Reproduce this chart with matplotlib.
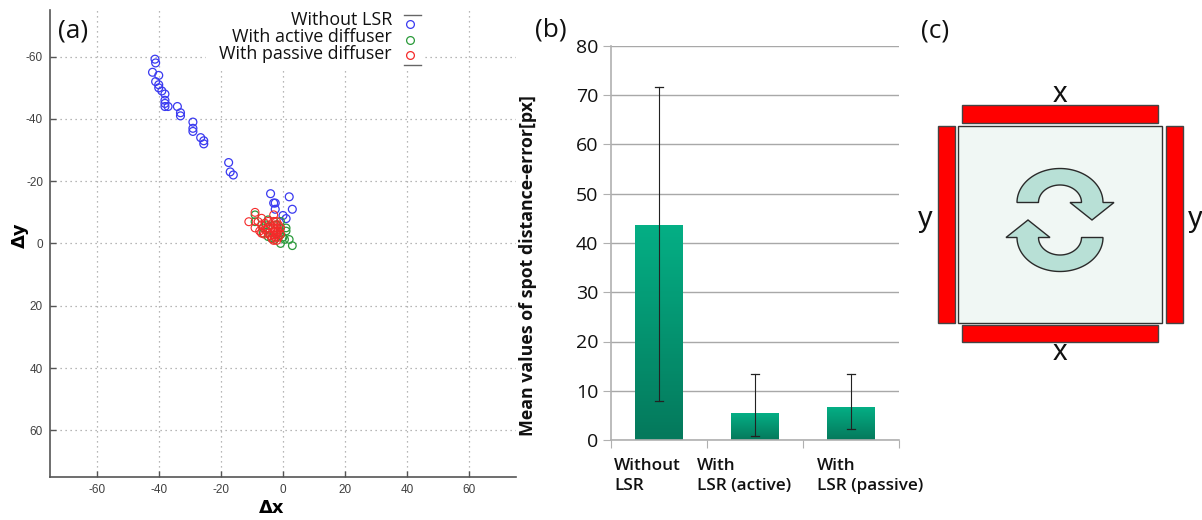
import numpy as np
import matplotlib
matplotlib.use("Agg")
import matplotlib.pyplot as plt
from matplotlib.patches import Rectangle, Polygon

W, H = 1202, 520

# (a) spot positions
blue_x = [-41.2, -41, -42, -40, -41, -40, -40, -39, -38, -38, -38, -38, -37, -34, -33, -33,
          -29, -29, -29, -26.5, -25.5, -25.5, -17.5, -17, -16, -4, 2, -3, -2.5, 3, -2.5, 0, 1]
blue_y = [-59.2, -58, -55, -54, -52, -51, -50, -49, -48, -46, -45, -44, -44, -44, -42, -41,
          -39, -37, -36, -34, -33, -32, -26, -23, -22, -16, -15, -13, -13, -11, -11, -9, -8]
green_x = [-9, -9, -4.8, -6.4, -4.8, -3.7, -0.8, -0.8, 1, 1, 2, 3, -0.8, 0.5, -0.8, -2.7, -6.4, -2, -1, 0, -3, -5.5]
green_y = [-9.2, -7, -7.6, -5, -2.2, -1.7, -7.1, -5, -5, -4, -1.3, 0.7, 0, -1.3, -2.8, -1.3, -3.3, -6, -3.5, -2, -4, -6]
red_x = [-11, -9, -9, -6.9, -6.9, -6.9, -4.8, -4.8, -4.8, -3, -3, -3, -3, -3, -2.1, -2.1, -2.1, -0.8,
         -8, -7.5, -5.8, -5.8, -4, -4, -2.5, -2.5, -2.5, -1.5, -1.5, -1.5, -3.5, -0.8, -6, -2, -2]
red_y = [-7, -10, -5, -8.1, -6, -3.3, -7.1, -5, -3.3, -9.2, -7.1, -5, -2.8, -1, -7.1, -5, -2.8, -5,
         -7, -4, -6.5, -4.5, -6, -2.5, -6, -4, -2, -6, -4, -2, -1.5, -3, -3, -1, -3.5]
xy_ticks = [-60, -40, -20, 0, 20, 40, 60]
legend_labels = ["Without LSR", "With active diffuser", "With passive diffuser"]

# (b) bars
bar_labels = ["Without\nLSR", "With\nLSR (active)", "With\nLSR (passive)"]
bar_means = [43.5, 5.4, 6.6]
err_low = [8.0, 0.9, 2.2]
err_high = [71.7, 13.3, 13.3]
bar_ticks = [0, 10, 20, 30, 40, 50, 60, 70, 80]


def axes_px(x0, y0, x1, y1, **kw):
    # axes from pixel box, y measured from the top of the image
    return fig.add_axes([x0 / W, 1 - y1 / H, (x1 - x0) / W, (y1 - y0) / H], **kw)


plt.rcParams["font.family"] = ["Open Sans", "DejaVu Sans"]
plt.rcParams["axes.unicode_minus"] = False
fig = plt.figure(figsize=(W / 100, H / 100), dpi=100, facecolor="white")

# overlay in image pixels for labels and the diagram
ov = fig.add_axes([0, 0, 1, 1], zorder=5)
ov.set_xlim(0, W)
ov.set_ylim(H, 0)
ov.axis("off")

# ---- panel (a)
ax = axes_px(50, 10, 516, 477)
ax.set_xlim(-75, 75)
ax.set_ylim(75, -75)
ax.set_xticks(xy_ticks)
ax.set_yticks(xy_ticks)
ax.grid(True, color="#a0a0a0", linestyle=(0, (1, 3)), linewidth=0.9)
ax.set_axisbelow(True)
for s in ["top", "right"]:
    ax.spines[s].set_visible(False)
for s in ["left", "bottom"]:
    ax.spines[s].set_color("#555555")
    ax.spines[s].set_linewidth(1.2)
ax.tick_params(direction="in", length=4, width=1, color="#555555", labelsize=8.5, labelcolor="#404040", pad=5)
for t in ax.get_xticklabels() + ax.get_yticklabels():
    t.set_family("Liberation Sans")
ax.scatter(blue_x, blue_y, s=32, facecolors="none", edgecolors="#3a3af0", linewidths=0.9, zorder=3)
ax.scatter(green_x, green_y, s=30, facecolors="none", edgecolors="#2a9a3a", linewidths=0.9, zorder=3)
ax.scatter(red_x, red_y, s=32, facecolors="none", edgecolors="#f52a2a", linewidths=0.8, zorder=4)
ov.text(272, 508, "Δx", fontsize=13, fontweight="bold", family="DejaVu Sans", ha="center", va="center")
ov.text(20, 235, "Δy", fontsize=13, fontweight="bold", family="DejaVu Sans", rotation=90, ha="center", va="center")

# legend block hides the grid behind it
ov.add_patch(Rectangle((206, 9), 219, 61, facecolor="white", edgecolor="none"))
for lab, ty, my, c in zip(legend_labels, [20, 37, 54], [24, 40, 55], ["#3a3af0", "#2a9a3a", "#f52a2a"]):
    ov.text(392, ty, lab, ha="right", va="center", fontsize=12.9, color="#111111")
    ov.plot([410], [my], "o", ms=5.6, mfc="none", mec=c, mew=0.9)
ov.plot([404, 421], [15, 15], color="#666666", lw=1)
ov.plot([404, 421], [65, 65], color="#666666", lw=1)
ov.text(58, 31, "(a)", fontsize=19, va="center", color="#111111")

# ---- panel (b)
bx = axes_px(611, 46, 899, 440)
bx.set_xlim(0, 3)
bx.set_ylim(0, 80)
bx.set_yticks(bar_ticks)
bx.set_xticks([0, 1, 2, 3])
bx.set_xticklabels([])
bx.yaxis.grid(True, color="#a8a8a8", linewidth=1)
bx.set_axisbelow(True)
for s in ["top", "right"]:
    bx.spines[s].set_visible(False)
for s in ["left", "bottom"]:
    bx.spines[s].set_color("#b0b0b0")
    bx.spines[s].set_linewidth(1.2)
bx.tick_params(axis="y", length=6, color="#b0b0b0", labelsize=14, labelcolor="#111111", pad=3)
bx.tick_params(axis="x", length=6, color="#b0b0b0")

centers = np.arange(3) + 0.5
grad = np.linspace(0, 1, 64)[:, None, None] * (np.array([4, 121, 92]) - np.array([4, 175, 133])) + np.array([4, 175, 133])
for c, m in zip(centers, bar_means):
    bx.imshow(grad.astype(np.uint8), extent=(c - 0.25, c + 0.25, 0, m), origin="upper",
              aspect="auto", zorder=2, interpolation="bilinear")
bx.set_xlim(0, 3)
bx.set_ylim(0, 80)
for c, lo, hi in zip(centers, err_low, err_high):
    bx.plot([c, c], [lo, hi], color="#222222", lw=0.8, zorder=3)
    bx.plot([c - 0.04, c + 0.04], [lo, lo], color="#222222", lw=0.9, zorder=3)
    bx.plot([c - 0.04, c + 0.04], [hi, hi], color="#222222", lw=0.9, zorder=3)

for lab, px in zip(bar_labels, [614, 697, 817]):
    ov.text(px, 476, lab, ha="left", va="center", fontsize=12.3, fontweight="semibold",
            linespacing=1.25, color="#111111")
ov.text(528, 266, "Mean values of spot distance-error[px]", rotation=90, ha="center", va="center",
        fontsize=12.8, fontweight="bold", color="#111111")
ov.text(535, 30, "(b)", fontsize=19, va="center", color="#111111")

# ---- panel (c) diagram, in image pixels
ov.text(921, 31, "(c)", fontsize=19, va="center", color="#111111")
sq_fill = "#f0f7f4"
ov.add_patch(Rectangle((957.5, 126), 204, 196.5, facecolor=sq_fill, edgecolor="#333333", lw=1))
for x0, y0, w, h in [(961.5, 105, 196.5, 17.5), (961.5, 325, 196, 17),
                     (938, 126, 17, 196.5), (1166, 126, 17, 196.5)]:
    ov.add_patch(Rectangle((x0, y0), w, h, facecolor="#ff0000", edgecolor="#444444", lw=1))
for s, px, py in [("x", 1060, 94), ("x", 1060, 352), ("y", 925, 219), ("y", 1195, 219)]:
    ov.text(px, py, s, ha="center", va="center", fontsize=21, family="Liberation Sans", color="#111111")


def curved_arrow(cx, cy, sign):
    # half ring with a head on its end, sign=-1 flips it to the lower arrow
    t = np.linspace(np.pi, 0, 60)
    ox = cx + 43 * np.cos(t) * sign
    oy = cy - 34 * np.sin(t) * sign
    ix = cx + 21.5 * np.cos(t[::-1]) * sign
    iy = cy - 17.5 * np.sin(t[::-1]) * sign
    head = [(cx + 54 * sign, cy), (cx + 32 * sign, cy + 17.5 * sign), (cx + 10 * sign, cy)]
    pts = list(zip(ox, oy)) + head + list(zip(ix, iy))
    ov.add_patch(Polygon(pts, closed=True, facecolor="#b8e0d6", edgecolor="#2a2a2a", lw=1))


curved_arrow(1060, 202.5, 1)
curved_arrow(1060, 237.5, -1)

fig.savefig("out.png", dpi=100)
